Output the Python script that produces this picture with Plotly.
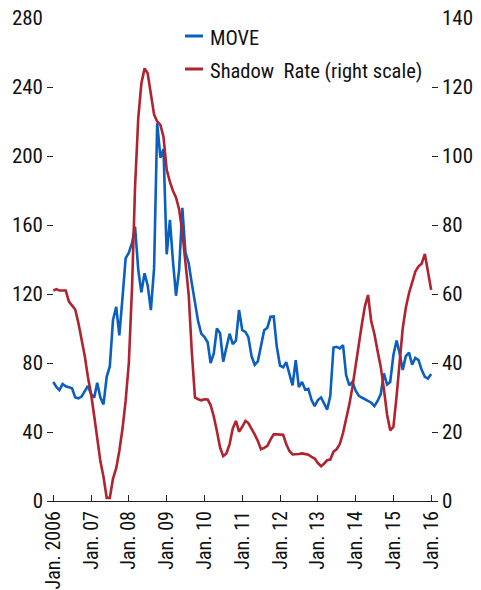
import plotly.graph_objects as go
import pandas as pd

dates = pd.date_range("2006-01-01", "2016-01-01", freq="MS").strftime("%Y-%m-%d").tolist()

move = [69, 66, 64.3, 67.8, 66.5, 66, 65.3, 60, 59.5, 60.5, 63.5, 66.7,
        62, 60, 68.6, 60, 56, 72, 78, 105, 112.6, 96, 118, 140.7,
        144, 149.6, 159, 134, 121, 132, 125, 110.7, 135, 219, 199, 204,
        143, 163, 140, 119, 134, 170, 144, 138, 126, 115, 104, 97,
        95, 92, 80, 85.6, 100, 97.2, 80.8, 89, 97, 91, 93, 110.7,
        99.1, 98, 95, 84, 79, 81, 89, 99, 100.5, 106.8, 107, 89.4,
        78.5, 77.5, 80.5, 74, 67, 81.7, 66, 69, 64.5, 65, 58.5, 55,
        58.5, 60, 57, 53, 61, 89, 89.4, 88.5, 90.4, 73, 67, 69,
        64, 61, 60, 59, 58, 57, 55, 58, 62, 74, 67.5, 69,
        84.6, 93, 86, 76, 84, 86, 79, 83, 81.7, 76, 72, 71,
        73.6]

shadow = [61, 61.4, 61, 60.9, 61, 57.8, 56.7, 55.5, 51.5, 47, 42, 36,
          31, 24.5, 17.5, 11.5, 7, 0.9, 0.9, 6.5, 9.5, 14.5, 21, 29,
          40, 62, 91, 111, 121, 125.4, 124, 118.2, 112, 110, 109, 105.5,
          96, 92.5, 90, 88, 84.5, 78, 69.5, 60, 43, 30, 29.5, 29.2,
          29.5, 29.4, 27.8, 24.5, 20.3, 15.5, 13, 13.8, 16.5, 21, 23.2, 20.1,
          21.5, 23.2, 22.6, 21, 19.3, 17.4, 15, 15.4, 16, 17.8, 19.3, 19.3,
          19.2, 19.2, 16.5, 14.5, 13.5, 13.5, 13.6, 13.8, 13.7, 13.4, 12.8, 12.3,
          11, 10.1, 10.8, 11.8, 12, 14.3, 15, 16.5, 19.7, 23.5, 28, 33,
          39.5, 45.5, 51, 56.5, 59.7, 52, 48.5, 43.5, 38.8, 32.5, 25, 20.5,
          21.5, 30.5, 40.5, 50, 56, 60.3, 63.3, 66.5, 68, 68.8, 71.6, 66.5,
          61.2]

tick_dates = ["2006-01-01", "2007-01-01", "2008-01-01", "2009-01-01", "2010-01-01",
              "2011-01-01", "2012-01-01", "2013-01-01", "2014-01-01", "2015-01-01",
              "2016-01-01"]
tick_labels = ["Jan. 2006", "Jan. 07", "Jan. 08", "Jan. 09", "Jan. 10", "Jan. 11",
               "Jan. 12", "Jan. 13", "Jan. 14", "Jan. 15", "Jan. 16"]
left_ticks = [0, 40, 80, 120, 160, 200, 240, 280]
right_ticks = [0, 20, 40, 60, 80, 100, 120, 140]

BLUE = "#0A5FC0"
RED = "#B0232F"
FONT = "Liberation Sans Narrow, Arial Narrow, Roboto Condensed, DejaVu Sans Condensed, sans-serif"

fig = go.Figure()
fig.add_trace(go.Scatter(x=dates, y=move, mode="lines", name="MOVE",
                         line=dict(color=BLUE, width=2.6), yaxis="y"))
fig.add_trace(go.Scatter(x=dates, y=shadow, mode="lines", name="Shadow Rate (right scale)",
                         line=dict(color=RED, width=2.6), yaxis="y2"))

# legend drawn manually (short line samples)
L, W, T, H = 47, 391, 18, 483
def px(xp):
    return (xp - L) / W
def py(yp):
    return (T + H - yp) / H

for yline, ytext, label, col in [(36, 37.5, "MOVE", BLUE), (69, 71, "Shadow  Rate (right scale)", RED)]:
    fig.add_shape(type="line", xref="paper", yref="paper", x0=px(185), x1=px(203),
                  y0=py(yline), y1=py(yline), line=dict(color=col, width=3))
    fig.add_annotation(xref="paper", yref="paper", x=px(208), y=py(ytext), text=label,
                       showarrow=False, xanchor="left", yanchor="middle",
                       font=dict(size=20.5, color="#111111", family=FONT))

fig.update_layout(
    width=481, height=590,
    margin=dict(l=L, r=481 - (L + W), t=T, b=590 - (T + H), autoexpand=False),
    plot_bgcolor="white", paper_bgcolor="white",
    showlegend=False,
    font=dict(family=FONT, size=21, color="#111111"),
    xaxis=dict(type="date", range=["2005-11-01", "2016-03-07"],
               tickmode="array", tickvals=tick_dates, ticktext=tick_labels,
               tickangle=-90, ticks="inside", ticklen=6, tickcolor="#222222",
               tickfont=dict(size=20),
               showline=True, linecolor="#222222", linewidth=1.2,
               showgrid=False, zeroline=False, automargin=False,
               ticklabelstandoff=1),
    yaxis=dict(range=[0, 280], tickmode="array", tickvals=left_ticks,
               ticks="inside", ticklen=6, tickcolor="#222222",
               showline=False, showgrid=False, zeroline=False, automargin=False,
               ticklabelstandoff=3),
    yaxis2=dict(range=[0, 140], tickmode="array", tickvals=right_ticks,
                overlaying="y", side="right",
                ticks="inside", ticklen=6, tickcolor="#222222",
                showline=False, showgrid=False, zeroline=False, automargin=False,
                ticklabelstandoff=3),
)

fig.write_html("out.html", config={"displayModeBar": False},
               post_script="document.body.style.margin='0';document.body.style.overflow='hidden';")
